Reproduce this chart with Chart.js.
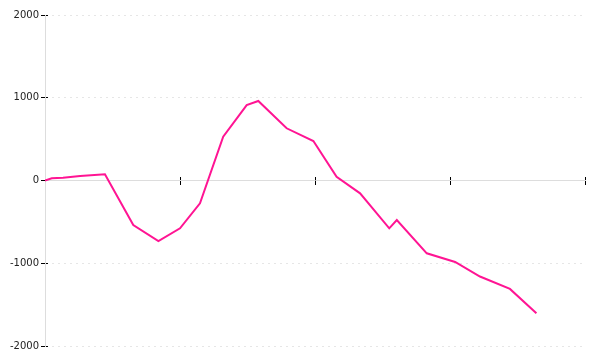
<!DOCTYPE html>
<html>
<head>
<meta charset="utf-8">
<script src="https://cdn.jsdelivr.net/npm/chart.js@4/dist/chart.umd.min.js"></script>
<style>
    html, body { margin: 0; padding: 0; background: #fff; }
    #wrap { width: 600px; height: 360px; }
</style>
</head>
<body>
<div id="wrap"><canvas id="lineChart"></canvas></div>
<script>
// x positions in axis units (one tick every 5 units)
const xValues = [0, 0.25, 0.67, 1.3, 2.22, 3.27, 4.2, 5.0, 5.74, 6.6, 7.47, 7.9,
    8.95, 9.94, 10.8, 11.67, 12.75, 13.03, 14.14, 15.19, 16.11, 17.22, 18.2];
const yValues = [0, 27, 34, 54, 75, -538, -731, -578, -276, 529, 912, 961,
    631, 477, 46, -155, -578, -477, -880, -985, -1160, -1310, -1605];
const xTicks = [0, 5, 10, 15, 20];
const yTicks = [-2000, -1000, 0, 1000, 2000];

const points = xValues.map((x, i) => ({ x: x, y: yValues[i] }));

const ctx = document.getElementById("lineChart").getContext("2d");

new Chart(ctx, {
    type: "line",
    data: {
        datasets: [
            {
                data: points,
                borderColor: "#ff1493",
                borderWidth: 2,
                tension: 0,
                pointRadius: 0,
                fill: false
            }
        ]
    },
    options: {
        responsive: true,
        maintainAspectRatio: false,
        animation: false,
        layout: { padding: { top: 15, right: 15, bottom: 14, left: 0 } },
        plugins: {
            legend: { display: false },
            tooltip: { enabled: false }
        },
        scales: {
            x: {
                type: "linear",
                position: { y: 0 },
                z: 1,
                min: xTicks[0],
                max: xTicks[xTicks.length - 1],
                afterBuildTicks: (scale) => { scale.ticks = xTicks.map(v => ({ value: v })); },
                ticks: { display: false },
                grid: { drawOnChartArea: false, tickLength: 4, tickColor: "#000" },
                border: { color: "#dddddd" }
            },
            // second copy of the x axis: upper half of the tick marks
            x2: {
                type: "linear",
                axis: "x",
                position: { y: 0 },
                z: 1,
                min: xTicks[0],
                max: xTicks[xTicks.length - 1],
                afterBuildTicks: (scale) => { scale.ticks = xTicks.map(v => ({ value: v })); },
                ticks: { display: false },
                grid: { drawOnChartArea: false, tickLength: -4, tickColor: "#000" },
                border: { display: false }
            },
            y: {
                position: "left",
                min: yTicks[0],
                max: yTicks[yTicks.length - 1],
                afterBuildTicks: (scale) => { scale.ticks = yTicks.map(v => ({ value: v })); },
                afterFit: (scale) => { scale.width = 45; },
                ticks: {
                    padding: 2,
                    color: "#222",
                    font: { family: "DejaVu Sans", size: 10 },
                    callback: (v) => String(v)
                },
                grid: {
                    color: (c) => (c.tick && c.tick.value === 0) ? "rgba(0,0,0,0)" : "#e6e6e6",
                    tickLength: 4,
                    tickColor: "#000"
                },
                border: { color: "#dddddd", dash: [2, 4] }
            },
            // inner half of the y tick marks
            y2: {
                type: "linear",
                axis: "y",
                position: { x: 0 },
                z: 1,
                min: yTicks[0],
                max: yTicks[yTicks.length - 1],
                afterBuildTicks: (scale) => { scale.ticks = yTicks.map(v => ({ value: v })); },
                ticks: { display: false },
                grid: { drawOnChartArea: false, tickLength: -3, tickColor: "#000" },
                border: { display: false }
            }
        }
    }
});
</script>
</body>
</html>
